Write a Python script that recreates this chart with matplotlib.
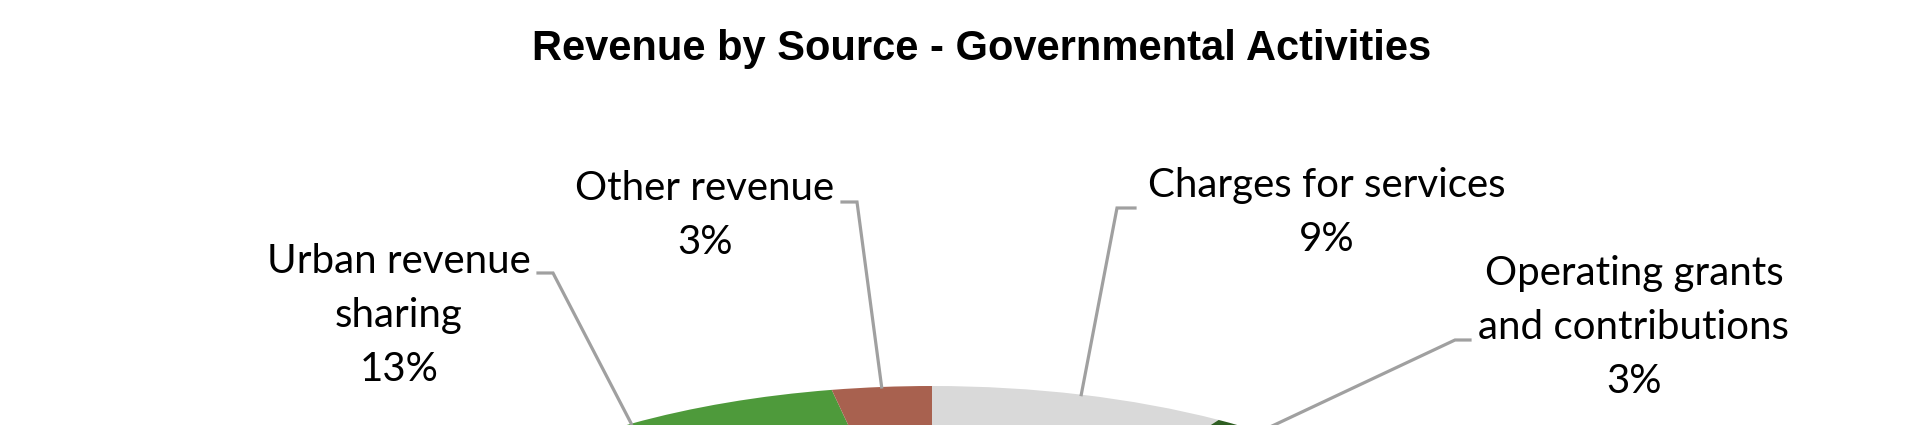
import matplotlib
matplotlib.use("Agg")
import numpy as np
import matplotlib.pyplot as plt
import matplotlib.transforms as mtransforms
from matplotlib.lines import Line2D

# Revenue shares (percent of governmental revenue), clockwise from 12 o'clock
categories = [
    "Charges for services",
    "Operating grants\nand contributions",
    "Remaining sources",
    "Urban revenue\nsharing",
    "Other revenue",
]
shares = [9, 3, 72, 13, 3]
colors = ["#D9D9D9", "#2E5E22", "#7FB069", "#4E9A3B", "#A8614F"]
show_label = [True, True, False, True, True]

title = "Revenue by Source - Governmental Activities"

W, H = 1921, 425
fig = plt.figure(figsize=(W / 100, H / 100), dpi=100)
fig.patch.set_facecolor("white")
ax = fig.add_axes([0, 0, 1, 1])

wedges, _ = ax.pie(shares, colors=colors, startangle=90, counterclock=False,
                   radius=1, wedgeprops=dict(linewidth=0))
ax.set_aspect("auto")
ax.axis("off")

# Flattened (perspective) pie: unit radius spans 535 px across, 218 px deep,
# centred at pixel (932, 604) measured from the top edge.
cx, cy, rx, ry = 932, 604, 535, 218
ax.set_xlim(-cx / rx, (W - cx) / rx)
ax.set_ylim((cy - H) / ry, cy / ry)

# Pixel coordinates measured from the top-left corner
px = mtransforms.Affine2D().scale(1, -1).translate(0, H)

label_font = dict(family=["Lato", "DejaVu Sans"], fontsize=29, color="black")
line_gap = 54

# Label layout for each labelled wedge:
# (text centre x, first baseline y, elbow x, elbow y, stub end x)
layout = {
    0: (1327, 197, 1117, 208, 1135),
    1: (1634, 285, 1455, 340, 1470),
    3: (399, 273, 553, 273, 538),
    4: (705, 200, 857, 202, 842),
}

total = sum(shares)
fig.canvas.draw()
for i, (w, name, val) in enumerate(zip(wedges, categories, shares)):
    if not show_label[i]:
        continue
    tx, ty, ex, ey, sx = layout[i]
    mid = np.deg2rad((w.theta1 + w.theta2) / 2)
    dx, dy = ax.transData.transform((np.cos(mid), np.sin(mid)))
    fig.add_artist(Line2D([dx, ex, sx], [H - dy, ey, ey], transform=px,
                          color="#A0A0A0", lw=2.3, solid_joinstyle="miter"))
    lines = name.split("\n") + [f"{val / total * 100:.0f}%"]
    for k, line in enumerate(lines):
        fig.text(tx, ty + k * line_gap, line, transform=px, ha="center",
                 va="baseline", **label_font)

fig.text(982, 60, title, transform=px, ha="center", va="baseline",
         family=["Liberation Sans", "DejaVu Sans"], fontweight="bold",
         fontsize=30, color="black")

fig.savefig("out.png", dpi=100, facecolor="white")
